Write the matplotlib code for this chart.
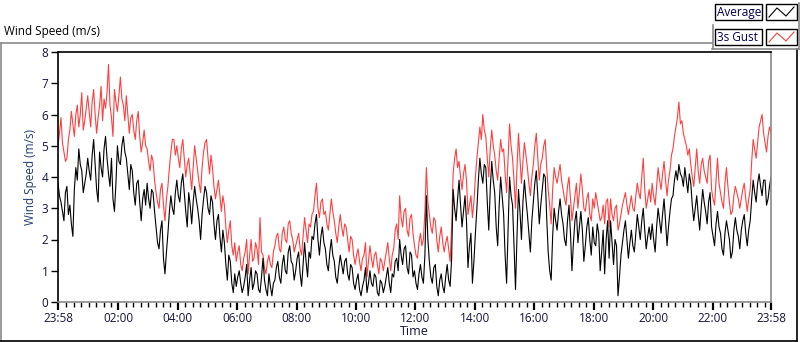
import numpy as np
import matplotlib
matplotlib.use("Agg")
import matplotlib.pyplot as plt
from matplotlib.lines import Line2D
from matplotlib.patches import Rectangle

plt.rcParams['font.family'] = ['Open Sans', 'DejaVu Sans']

# ---- data (one sample every 3 minutes, starting 23:58) ----
sample_minutes = 3
avg = [
    3.8, 3.4, 3.2, 2.9, 2.6, 3.5, 3.7, 2.8, 3.1, 2.5, 2.1, 3.6, 4.3, 3.9, 4.9, 4.4, 4.2, 3.5, 3.8, 4.1,
    4.6, 4.2, 3.9, 4.7, 5.2, 4.4, 3.6, 3.2, 4.8, 4.3, 4.0, 4.9, 5.3, 4.6, 4.1, 3.7, 4.6, 3.3, 2.9, 3.8,
    5.0, 4.5, 4.4, 5.0, 5.3, 4.8, 4.6, 4.1, 3.6, 4.4, 4.2, 3.5, 3.1, 3.8, 3.9, 3.2, 2.6, 3.3, 3.6, 3.1,
    3.8, 3.3, 3.0, 3.6, 3.5, 2.9, 2.4, 1.9, 1.7, 2.3, 2.6, 1.4, 0.9, 1.6, 2.2, 2.9, 3.4, 3.0, 2.8, 3.5,
    3.9, 3.4, 3.2, 3.8, 4.1, 3.5, 2.9, 2.4, 3.5, 3.1, 2.5, 3.2, 3.7, 3.3, 3.0, 2.6, 2.0, 2.8, 3.3, 3.7,
    3.5, 3.0, 2.8, 3.4, 3.2, 2.5, 2.0, 2.6, 2.8, 2.1, 1.6, 2.3, 1.9, 1.2, 0.7, 1.5, 1.3, 0.6, 0.3, 0.9,
    0.5, 0.8, 1.0, 0.6, 0.3, 0.5, 0.8, 1.2, 0.2, 0.7, 1.1, 0.4, 0.6, 1.0, 0.9, 0.4, 0.3, 0.8, 1.4, 0.7,
    0.4, 0.2, 0.9, 0.5, 0.2, 0.6, 0.7, 1.1, 1.3, 0.8, 0.6, 1.2, 1.5, 1.0, 0.9, 1.6, 1.8, 1.3, 1.2, 0.7,
    1.0, 1.4, 1.6, 0.9, 0.5, 1.2, 1.9, 1.3, 0.8, 1.6, 1.4, 2.1, 2.0, 2.5, 2.8, 2.0, 1.5, 2.1, 2.4, 1.9,
    1.7, 1.2, 1.0, 1.6, 2.0, 1.5, 1.3, 0.8, 0.6, 1.1, 1.5, 1.2, 0.9, 1.3, 1.4, 0.9, 0.7, 1.2, 1.1, 0.6,
    0.4, 0.7, 0.9, 0.4, 0.2, 0.5, 0.7, 1.1, 0.3, 0.6, 1.0, 0.6, 0.5, 0.9, 0.8, 0.3, 0.2, 0.7, 0.6, 0.3,
    0.5, 0.8, 1.1, 0.6, 0.3, 0.9, 0.8, 1.3, 1.4, 1.0, 2.0, 1.5, 1.2, 1.7, 1.8, 1.1, 0.9, 1.6, 1.5, 0.8,
    1.0, 0.6, 0.4, 0.9, 1.2, 0.8, 0.6, 1.5, 3.4, 2.0, 1.3, 0.8, 0.6, 1.1, 1.2, 0.5, 0.2, 0.7, 0.9, 0.5,
    0.3, 0.8, 1.2, 0.7, 0.5, 1.4, 3.6, 3.0, 2.6, 3.3, 3.9, 3.1, 2.4, 2.9, 3.4, 2.6, 1.1, 1.8, 2.2, 0.6,
    1.3, 2.2, 3.0, 3.9, 4.6, 4.1, 3.8, 4.4, 4.3, 3.2, 2.3, 3.6, 4.5, 3.9, 3.5, 2.4, 1.8, 3.1, 4.0, 3.4,
    2.8, 1.5, 0.6, 2.3, 4.0, 3.4, 3.1, 1.8, 0.4, 2.1, 3.6, 2.9, 2.0, 3.2, 3.9, 3.3, 2.8, 2.2, 1.6, 2.6,
    3.2, 3.8, 4.2, 3.4, 2.5, 3.1, 3.6, 4.1, 4.0, 2.7, 1.6, 1.0, 0.7, 2.1, 3.0, 2.6, 2.3, 2.9, 3.3, 2.8,
    2.5, 2.0, 1.8, 2.6, 3.1, 2.2, 1.0, 1.9, 2.6, 2.9, 1.9, 2.4, 2.9, 2.3, 1.3, 1.8, 2.4, 2.7, 2.0, 1.5,
    2.4, 1.9, 1.8, 2.5, 2.2, 1.0, 1.6, 2.3, 0.9, 2.0, 2.6, 1.4, 2.6, 1.9, 1.2, 2.0, 1.8, 0.2, 0.8, 1.5,
    1.9, 2.3, 2.6, 2.0, 1.4, 1.9, 2.3, 1.8, 1.6, 2.2, 2.8, 2.4, 2.0, 2.6, 3.0, 2.3, 1.7, 2.1, 2.4, 2.0,
    2.5, 2.0, 1.6, 2.4, 3.0, 2.6, 2.2, 2.8, 3.3, 2.6, 1.8, 2.4, 2.9, 3.3, 3.4, 3.9, 4.2, 3.9, 4.4, 4.1,
    4.0, 3.7, 4.3, 3.9, 3.5, 4.1, 3.8, 3.1, 2.6, 3.0, 3.4, 2.8, 2.3, 3.0, 3.6, 3.2, 2.9, 2.5, 3.2, 3.5,
    2.4, 2.1, 1.8, 2.5, 2.9, 2.4, 2.2, 1.7, 1.5, 2.2, 2.6, 2.3, 2.0, 1.4, 1.6, 2.3, 2.7, 2.3, 2.1, 1.7,
    2.3, 2.6, 2.8, 2.2, 1.8, 2.3, 2.6, 3.3, 3.9, 3.5, 3.2, 3.8, 4.1, 3.7, 3.4, 3.9, 3.9, 3.1, 3.3, 3.7, 4.0,
]
gust = [
    5.0, 5.4, 5.9, 5.1, 4.8, 4.5, 4.6, 5.2, 5.5, 6.1, 5.7, 5.3, 6.0, 6.3, 5.6, 6.0, 6.7, 5.5, 5.8, 6.2,
    6.6, 6.1, 5.6, 6.4, 6.8, 6.0, 5.4, 5.9, 6.3, 6.9, 5.8, 6.5, 6.2, 6.7, 7.6, 6.3, 5.9, 5.3, 6.8, 6.4,
    6.1, 6.6, 7.2, 6.5, 6.3, 5.8, 6.6, 6.0, 5.4, 5.9, 6.0, 5.5, 5.2, 5.8, 6.1, 5.3, 4.8, 5.1, 5.5, 5.0,
    4.9, 4.5, 4.2, 4.7, 4.5, 3.9, 3.5, 3.2, 3.0, 3.6, 3.8, 3.1, 2.6, 3.3, 3.7, 4.3, 4.8, 5.2, 5.2, 4.7,
    5.0, 4.6, 4.3, 4.9, 5.2, 4.6, 4.0, 4.4, 4.6, 4.1, 3.6, 4.3, 5.0, 4.6, 4.2, 3.8, 3.5, 4.3, 4.8, 5.1,
    5.2, 4.6, 4.1, 4.7, 4.3, 3.7, 3.3, 3.6, 3.9, 3.4, 2.9, 3.4, 3.1, 2.4, 1.9, 2.3, 2.6, 1.8, 1.5, 1.9,
    1.3, 1.6, 1.8, 1.2, 1.0, 1.4, 1.6, 2.0, 0.9, 1.5, 2.0, 1.3, 1.4, 1.9, 1.7, 1.2, 2.7, 1.6, 1.5, 1.1,
    0.9, 1.3, 1.5, 1.2, 1.1, 1.6, 1.8, 2.1, 2.2, 1.7, 1.6, 2.2, 2.4, 2.0, 1.9, 2.5, 2.6, 2.2, 2.0, 1.6,
    1.8, 2.0, 2.2, 1.7, 1.5, 2.1, 2.7, 2.3, 1.9, 2.5, 2.4, 2.8, 2.9, 3.4, 3.8, 3.0, 2.7, 3.2, 3.3, 2.8,
    2.9, 2.5, 2.3, 2.8, 3.3, 2.9, 2.6, 2.2, 1.9, 2.4, 2.8, 2.4, 2.1, 2.5, 2.4, 2.0, 1.6, 2.1, 2.0, 1.5,
    1.2, 1.5, 1.7, 1.3, 1.0, 1.4, 1.5, 1.9, 0.8, 1.3, 1.8, 1.4, 1.1, 1.5, 1.6, 1.2, 0.9, 1.4, 1.3, 1.0,
    1.3, 1.6, 1.9, 1.4, 1.0, 1.5, 1.7, 2.3, 2.5, 2.0, 3.4, 2.7, 2.4, 2.9, 3.0, 2.3, 2.1, 2.7, 2.8, 2.2,
    1.8, 1.5, 1.4, 1.9, 2.2, 1.8, 2.0, 2.9, 4.3, 3.2, 2.8, 2.4, 2.2, 2.7, 2.6, 2.0, 1.6, 2.1, 2.4, 1.9,
    1.6, 1.9, 2.1, 1.7, 1.3, 2.4, 4.1, 4.6, 4.9, 4.3, 4.5, 4.0, 3.6, 4.1, 4.4, 3.9, 2.8, 3.1, 3.4, 2.7,
    3.2, 4.0, 4.6, 5.1, 5.6, 5.2, 6.0, 5.5, 5.3, 4.6, 4.0, 4.9, 5.5, 5.0, 4.7, 4.2, 3.9, 4.6, 5.2, 4.8,
    4.9, 4.1, 3.5, 4.6, 5.7, 5.0, 4.6, 3.9, 3.0, 4.3, 5.4, 4.6, 3.8, 4.5, 5.1, 4.7, 4.3, 3.8, 3.4, 4.0,
    4.4, 5.0, 5.4, 4.6, 3.9, 4.4, 4.6, 5.0, 5.2, 4.3, 3.6, 3.1, 2.5, 3.6, 4.3, 4.0, 3.8, 4.1, 4.4, 3.9,
    3.6, 3.3, 3.1, 3.7, 4.0, 3.3, 2.6, 3.0, 3.4, 3.8, 3.0, 3.5, 4.1, 3.6, 3.0, 2.9, 3.3, 3.5, 2.8, 2.6,
    3.3, 3.0, 3.5, 3.2, 2.9, 2.6, 2.7, 3.1, 2.5, 3.2, 3.3, 2.4, 3.3, 2.8, 2.6, 3.0, 3.1, 2.3, 2.5, 2.8,
    3.1, 3.3, 3.5, 3.1, 2.8, 3.1, 3.4, 3.0, 2.9, 3.4, 3.8, 3.5, 3.3, 4.0, 4.6, 3.6, 3.0, 3.3, 3.6, 3.2,
    3.8, 3.4, 3.1, 3.7, 4.3, 3.9, 3.6, 4.1, 4.5, 3.9, 3.4, 3.9, 4.2, 4.7, 4.9, 5.3, 5.6, 5.9, 6.4, 5.7,
    5.8, 5.4, 5.2, 5.0, 4.7, 4.9, 4.4, 4.0, 3.7, 4.3, 4.9, 4.2, 3.8, 4.4, 4.6, 4.2, 4.0, 3.8, 4.5, 4.7,
    3.6, 3.3, 3.1, 3.9, 4.6, 3.8, 3.5, 3.2, 3.0, 3.8, 4.3, 3.7, 3.2, 2.8, 2.9, 3.4, 3.7, 3.5, 3.3, 3.0,
    3.3, 3.6, 3.8, 3.3, 2.9, 3.3, 3.6, 4.5, 5.2, 4.9, 4.6, 5.1, 5.6, 5.8, 6.0, 5.4, 5.1, 4.8, 5.3, 5.6, 5.4,
]
tick_labels = ["23:58", "02:00", "04:00", "06:00", "08:00", "10:00", "12:00",
               "14:00", "16:00", "18:00", "20:00", "22:00", "23:58"]
tick_minutes = [0, 122, 242, 362, 482, 602, 722, 842, 962, 1082, 1202, 1322, 1440]
series_names = ["Average", "3s Gust"]

t_avg = np.arange(len(avg)) * sample_minutes
t_gust = np.arange(len(gust)) * sample_minutes

W, H = 800, 342
fig = plt.figure(figsize=(W / 100, H / 100), dpi=100)
fig.patch.set_facecolor('white')

def fx(x):
    return x / W

def fy(y):
    return 1 - y / H

ax = fig.add_axes([fx(58), fy(302), fx(771) - fx(58), fy(52) - fy(302)])
ax.plot(t_gust, gust, color='#ff4040', lw=0.8)
ax.plot(t_avg, avg, color='black', lw=0.8)
ax.set_xlim(0, 1440)
ax.set_ylim(0, 8)

navy = '#14143c'
ax.set_yticks(range(0, 9))
ax.set_xticks(tick_minutes)
ax.set_xticklabels(tick_labels)
minor = [m for m in range(17, 1440, 15) if (m - 2) % 120 != 0]
ax.set_xticks(minor, minor=True)
ax.tick_params(axis='y', direction='out', length=5, width=1, colors='black',
               labelcolor=navy, labelsize=8.5, pad=2)
ax.tick_params(axis='x', which='major', direction='out', length=5.5, width=1.6,
               colors='black', labelcolor=navy, labelsize=8.5, pad=2)
ax.tick_params(axis='x', which='minor', direction='out', length=3.5, width=1,
               colors='black')
for s in ['top', 'left']:
    ax.spines[s].set_color('black')
    ax.spines[s].set_linewidth(1.2)
for s in ['bottom', 'right']:
    ax.spines[s].set_color('#8a8a8a')
    ax.spines[s].set_linewidth(1.2)

ax.set_ylabel("Wind Speed (m/s)", color='#1f3d6e', fontsize=8.5, labelpad=3)
ax.set_xlabel("Time", color=navy, fontsize=9, labelpad=0)

# outer panel frame
def hline(x0, x1, y, color, lw=1.2):
    fig.add_artist(Line2D([fx(x0), fx(x1)], [fy(y), fy(y)], color=color, lw=lw))

def vline(x, y0, y1, color, lw=1.2):
    fig.add_artist(Line2D([fx(x), fx(x)], [fy(y0), fy(y1)], color=color, lw=lw))

hline(0, 712, 42.5, '#8a8a8a')
vline(0.5, 42.5, 341, '#8a8a8a')
hline(0, 797, 340.5, 'black')
vline(797, 49, 341, 'black')

fig.text(fx(4), fy(31), "Wind Speed (m/s)", fontsize=8.5, color='black',
         ha='left', va='center')

# legend
vline(712.5, 25, 49, '#8a8a8a')
hline(712, 799, 48.5, '#8a8a8a')
vline(799, 3, 49, '#8a8a8a')
colors = ['black', '#ff4040']
for i, (name, c) in enumerate(zip(series_names, colors)):
    y0 = 4 + i * 25
    fig.add_artist(Rectangle((fx(715), fy(y0 + 16)), fx(762) - fx(715),
                             fy(y0) - fy(y0 + 16), fill=False, ec='black', lw=1))
    fig.add_artist(Rectangle((fx(766), fy(y0 + 16)), fx(797) - fx(766),
                             fy(y0) - fy(y0 + 16), fill=False, ec='black', lw=1))
    fig.text(fx(717), fy(y0 + 8.5), name, fontsize=8.5, color='#000050',
             ha='left', va='center')
    fig.add_artist(Line2D([fx(769), fx(777), fx(786), fx(794)],
                          [fy(y0 + 13), fy(y0 + 4), fy(y0 + 12), fy(y0 + 3)],
                          color=c, lw=0.8))

fig.savefig("out.png", dpi=100)
